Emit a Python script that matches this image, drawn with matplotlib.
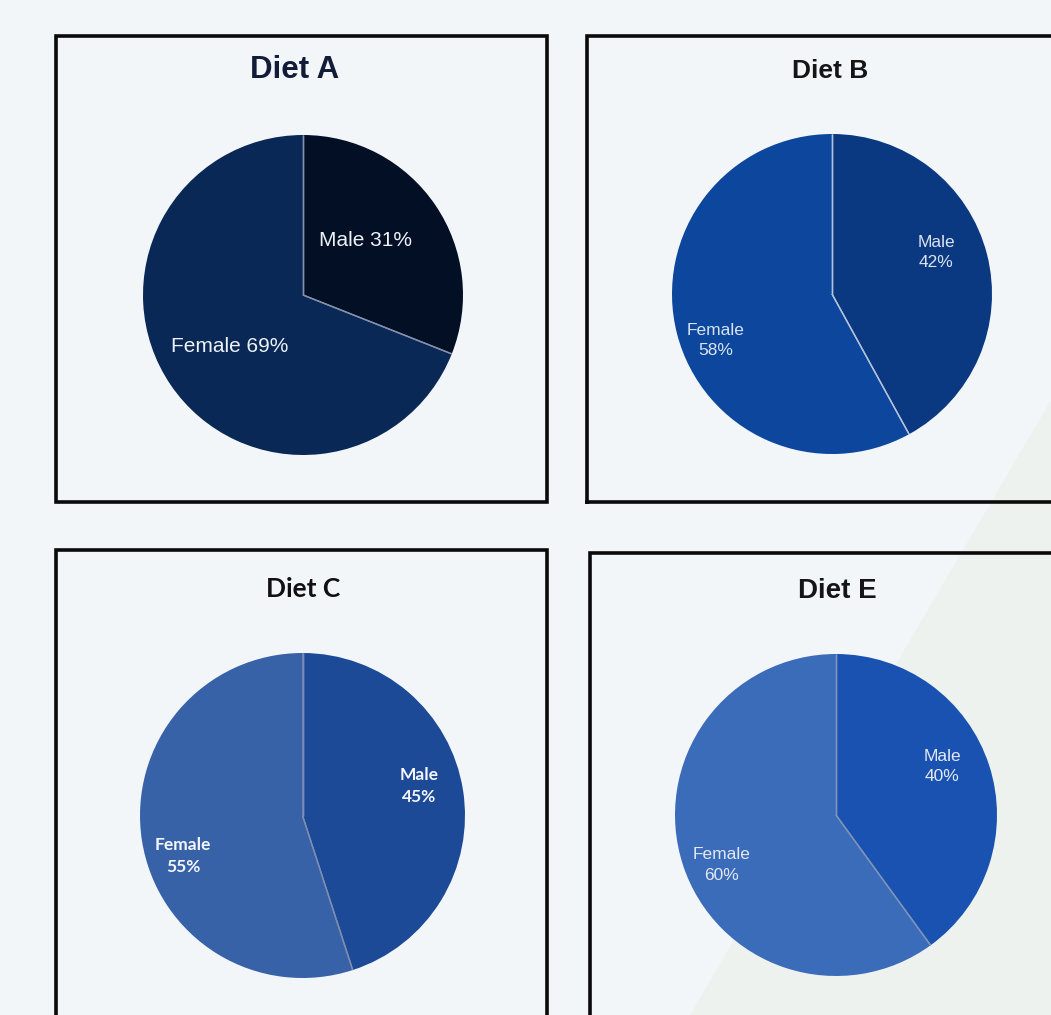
import numpy as np
import matplotlib
matplotlib.use("Agg")
import matplotlib.pyplot as plt
from matplotlib.patches import Rectangle, Polygon

# Share of male and female participants per diet group
diets = ["Diet A", "Diet B", "Diet C", "Diet E"]
male_pct = [31, 42, 45, 40]
female_pct = [69, 58, 55, 60]
label_style = ["inline", "stacked", "stacked", "stacked"]

W, H = 1051, 1015
fig = plt.figure(figsize=(W / 100, H / 100), dpi=100)
fig.patch.set_facecolor("#f3f6f9")

def fx(px):
    return px / W

def fy(py):
    return 1 - py / H

# faint diagonal tint in the lower right of the backdrop
band = Polygon([(fx(1051), fy(400)), (fx(1051), fy(1015)), (fx(690), fy(1015))],
               closed=True, transform=fig.transFigure,
               facecolor="#e6ecdc", edgecolor="none", alpha=0.35, zorder=0)
fig.add_artist(band)

# panel frames (left, top, right, bottom) in pixels
frames = [(56, 36, 547, 502), (587, 36, 1070, 502),
          (56, 550, 547, 1030), (590, 553, 1070, 1030)]
for (l, t, r, b) in frames:
    fig.add_artist(Rectangle((fx(l), fy(b)), fx(r) - fx(l), fy(t) - fy(b),
                             transform=fig.transFigure, fill=False,
                             edgecolor="#0a0a0a", linewidth=2.6,
                             joinstyle="miter", capstyle="projecting",
                             snap=False, zorder=1))

# pie centre and radius in pixels
pies = [(303, 295, 160), (832, 294, 160), (302.5, 815.5, 162.5), (836, 815, 161)]

colors = [("#020f25", "#0a2856"), ("#0a3881", "#0c479d"),
          ("#1d4a97", "#3862a8"), ("#1a52b2", "#3b6cba")]
sep_colors = ["#8391ad", "#b3c2da", "#7d8eb0", "#7f93b8"]
text_colors = ["#eef1f7", "#dbe3f1", "#f4f6fb", "#e3e9f4"]

title_pos = [(295, 78), (830, 78), (303, 597), (837, 598)]
title_style = [dict(fontsize=22.5, fontweight="bold", color="#121c38",
                    family=["Liberation Sans", "DejaVu Sans"]),
               dict(fontsize=19, fontweight="bold", color="#151515",
                    family=["Liberation Sans", "DejaVu Sans"]),
               dict(fontsize=19, fontweight="bold", color="#111111",
                    family=["Lato", "DejaVu Sans"]),
               dict(fontsize=20, fontweight="bold", color="#151515",
                    family=["Liberation Sans", "DejaVu Sans"])]

# label centres as fractions of the radius (male, female)
label_xy = [((0.39, 0.34), (-0.46, -0.32)),
            ((0.65, 0.26), (-0.725, -0.29)),
            ((0.72, 0.18), (-0.735, -0.25)),
            ((0.66, 0.30), (-0.71, -0.31))]
label_font = [dict(fontsize=15, family=["Liberation Sans", "DejaVu Sans"]),
              dict(fontsize=12.5, family=["Liberation Sans", "DejaVu Sans"]),
              dict(fontsize=12.5, fontweight="bold", family=["Lato", "DejaVu Sans"]),
              dict(fontsize=12.5, family=["Liberation Sans", "DejaVu Sans"])]

for i, name in enumerate(diets):
    cx, cy, r = pies[i]
    ax = fig.add_axes([fx(cx - r), fy(cy + r), 2 * r / W, 2 * r / H])
    ax.set_zorder(2)
    wedges, _ = ax.pie([male_pct[i], female_pct[i]], colors=colors[i],
                       startangle=90, counterclock=False, radius=1,
                       wedgeprops=dict(linewidth=0))
    ax.set_xlim(-1, 1)
    ax.set_ylim(-1, 1)
    ax.axis("off")
    # thin light separators along the slice boundaries
    for w in wedges:
        for th in (w.theta1, w.theta2):
            a = np.deg2rad(th)
            ax.plot([0, np.cos(a)], [0, np.sin(a)], color=sep_colors[i],
                    linewidth=1.0, solid_capstyle="butt")

    if label_style[i] == "inline":
        m_txt = f"Male {male_pct[i]}%"
        f_txt = f"Female {female_pct[i]}%"
    else:
        m_txt = f"Male\n{male_pct[i]}%"
        f_txt = f"Female\n{female_pct[i]}%"
    (mx, my), (gx, gy) = label_xy[i]
    ax.text(mx, my, m_txt, ha="center", va="center", multialignment="center",
            color=text_colors[i], linespacing=1.45, **label_font[i])
    ax.text(gx, gy, f_txt, ha="center", va="center", multialignment="center",
            color=text_colors[i], linespacing=1.45, **label_font[i])

    tx, ty = title_pos[i]
    fig.text(fx(tx), fy(ty), name, ha="center", va="baseline", zorder=3,
             **title_style[i])

fig.savefig("out.png", dpi=100, facecolor=fig.get_facecolor())
